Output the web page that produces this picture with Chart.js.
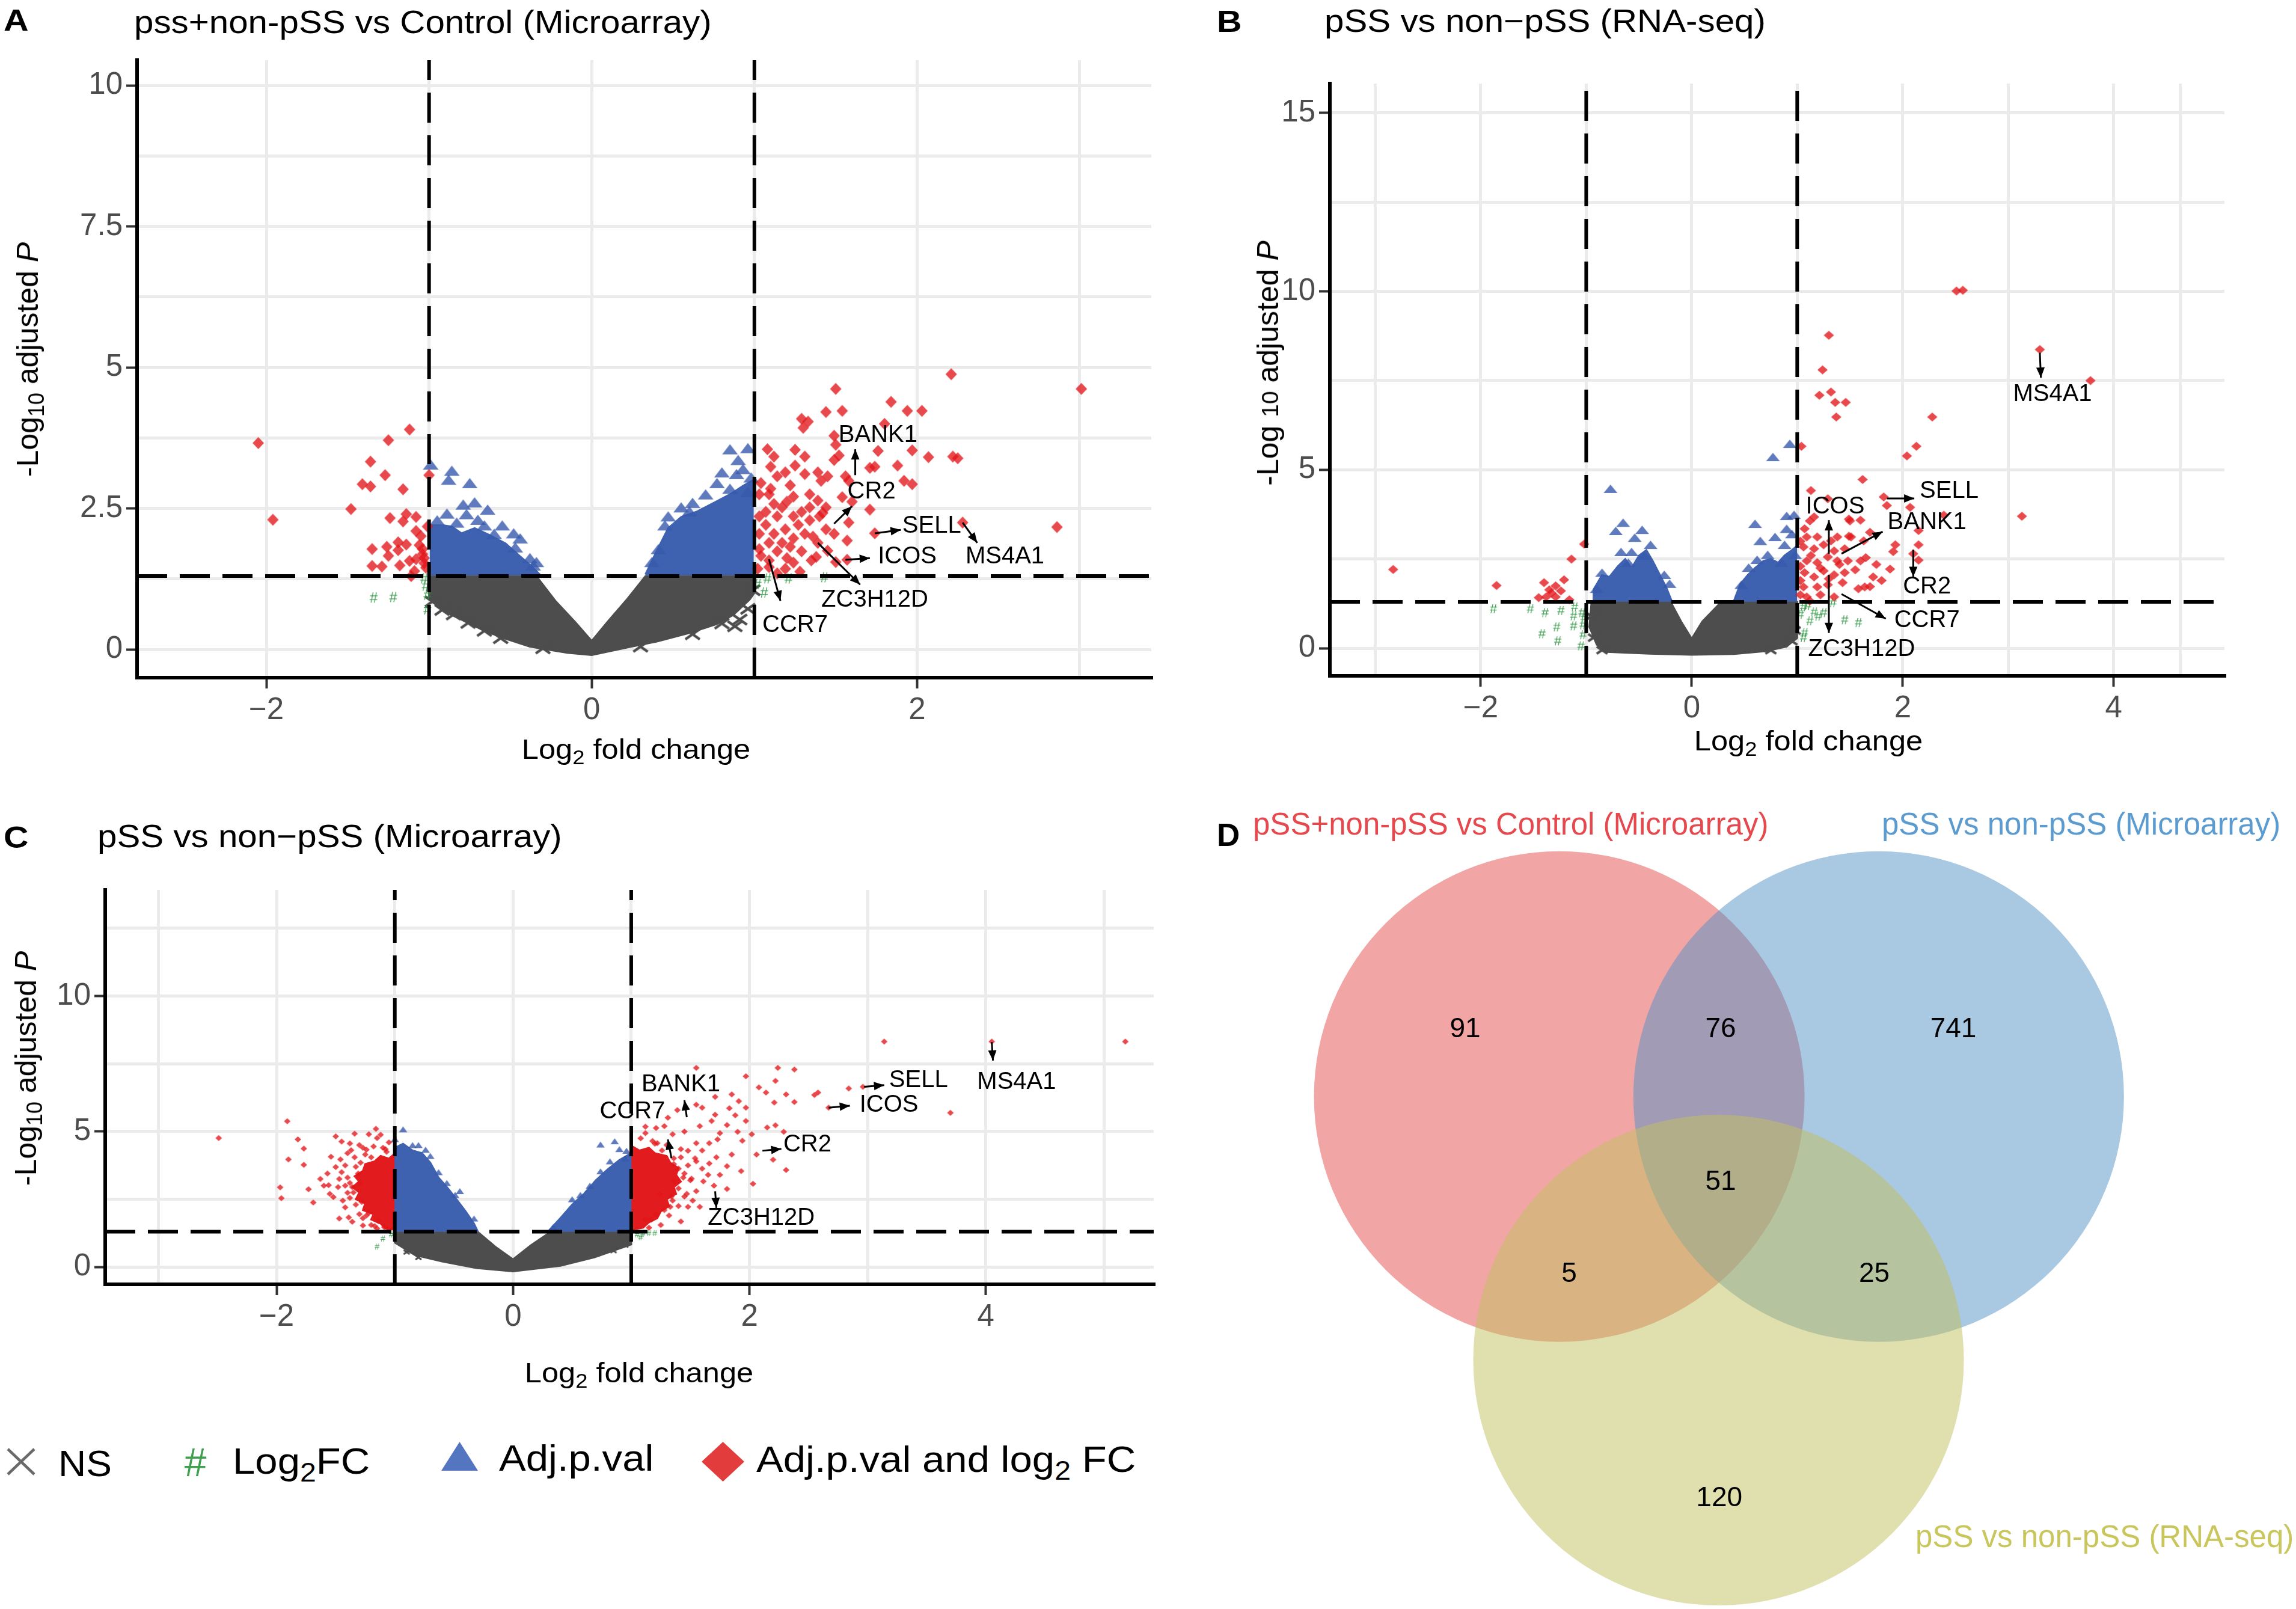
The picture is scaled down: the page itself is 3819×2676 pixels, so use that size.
<!DOCTYPE html>
<html><head><meta charset="utf-8">
<script src="https://cdn.jsdelivr.net/npm/chart.js@4.4.1/dist/chart.umd.min.js"></script>
<style>
html,body{margin:0;padding:0;background:#fff;}
body{width:3819px;height:2676px;position:relative;overflow:hidden;font-family:"Liberation Sans",Arial,sans-serif;}
canvas{position:absolute;}
.t{position:absolute;white-space:nowrap;line-height:1;color:#000;}
sub{font-size:72%;vertical-align:baseline;position:relative;top:0.28em;line-height:0;}
.sm{font-size:78%;}
svg{position:absolute;}
</style></head><body>
<canvas id="cA"></canvas><canvas id="cB"></canvas><canvas id="cC"></canvas><canvas id="cD"></canvas>
<div id="txt"></div>
<script>
// ---------------- DATA ----------------
const FC_CUT = 1, P_CUT = 1.30103;

// Panel A: pss+non-pSS vs Control (Microarray)
const A_nsCloud = [[-1.0,1.30],[-0.34,1.30],[-0.22,0.85],[-0.1,0.48],[0,0.15],[0.1,0.5],[0.22,0.9],[0.33,1.30],[1.0,1.30],[1.0,1.0],[0.97,0.88],[0.87,0.61],[0.77,0.45],[0.6,0.29],[0.4,0.14],[0.23,0.04],[0,-0.10],[-0.15,-0.06],[-0.38,0.05],[-0.53,0.19],[-0.66,0.33],[-0.81,0.54],[-0.89,0.65],[-1.0,0.89]];
const A_ns = [[0.88,0.41],[0.91,0.53],[-0.85,0.62],[-0.92,0.7],[-0.76,0.47],[0.96,0.72],[0.62,0.27],[-0.56,0.2],[-0.98,0.85],[0.99,1.05],[0.3,0.05],[-0.3,0.02],[0.8,0.46],[-0.66,0.33]];
const A_fc = [[-1.34,0.91],[-1.22,0.92],[-1.03,1.25],[-1.01,0.96],[-1.01,0.70],[-1.02,1.12],[1.08,1.25],[1.21,1.25],[1.43,1.27],[1.06,1.00],[1.02,1.15]];
const A_pCloudL = [[-0.99,1.33],[-0.99,2.2],[-0.91,2.2],[-0.86,2.18],[-0.8,2.06],[-0.72,2.15],[-0.63,2.03],[-0.53,1.88],[-0.46,1.70],[-0.38,1.50],[-0.32,1.33]];
const A_pCloudR = [[0.33,1.33],[0.40,1.75],[0.47,2.15],[0.55,2.35],[0.65,2.45],[0.75,2.6],[0.85,2.75],[0.93,2.9],[0.99,3.0],[0.99,1.33]];
const A_p = [[-0.99,3.28],[-0.86,3.17],[-0.88,3.01],[-0.75,2.95],[-0.79,2.57],[-0.72,2.61],[-0.64,2.48],[-0.89,2.41],[-0.77,2.40],[-0.95,2.29],[-0.55,2.20],[-0.66,2.20],[-0.48,2.06],[-0.44,1.97],[-0.47,1.81],[-0.38,1.62],[-0.34,1.55],[-0.36,1.49],[-0.6,2.05],[-0.83,2.25],[-0.7,2.3],
 [0.85,3.55],[0.96,3.57],[0.90,3.36],[0.80,3.14],[0.89,3.11],[0.77,2.95],[0.96,2.79],[0.70,2.75],[0.55,2.52],[0.47,2.36],[0.41,1.78],[0.62,2.6],[0.45,2.2],[0.37,1.55],[0.93,3.2],[0.98,3.05],[0.85,2.85],[0.6,2.45]];
const A_both = [[-2.05,3.66],[-1.96,2.30],[-1.12,3.90],[-1.25,3.71],[-1.36,3.33],[-1.27,3.09],[-1.41,2.93],[-1.36,2.89],[-1.16,2.84],[-1.48,2.49],[-1.24,2.33],[-1.14,2.40],[-1.08,2.35],[-1.16,2.27],[-1.00,3.09],[-1.01,2.18],[-1.08,2.10],[-1.05,2.01],[-1.35,1.78],[-1.26,1.82],[-1.19,1.90],[-1.14,1.86],[-1.19,1.76],[-1.25,1.66],[-1.35,1.48],[-1.29,1.47],[-1.18,1.49],[-1.12,1.57],[-1.08,1.60],[-1.04,1.69],[-1.03,1.53],[-1.09,1.39],[-1.11,1.30],[-1.04,1.78],[-1.02,1.45],[-1.06,1.85],[-1.03,1.62],
 [2.21,4.88],[3.01,4.62],[1.50,4.62],[1.84,4.39],[1.44,4.21],[1.54,4.23],[1.94,4.23],[2.03,4.23],[1.29,4.09],[1.33,4.04],[1.30,3.93],[1.80,4.00],[1.49,3.79],[1.50,3.63],[1.08,3.55],[1.25,3.54],[1.12,3.42],[1.31,3.42],[1.76,3.52],[1.97,3.53],[2.07,3.41],[2.22,3.42],[2.25,3.39],[1.49,3.36],[1.52,3.44],[1.10,3.24],[1.19,3.14],[1.25,3.26],[1.14,3.07],[1.31,3.11],[1.39,3.14],[1.45,3.07],[1.41,2.99],[1.71,3.22],[1.74,3.24],[1.88,3.26],[1.56,3.07],[1.58,2.99],[1.92,2.99],[1.97,2.93],[1.22,2.91],[1.04,2.95],[1.03,2.75],[1.09,2.75],[1.24,2.71],[1.34,2.75],[1.39,2.64],[1.54,2.70],[1.17,2.52],[1.07,2.44],[1.71,2.48],[1.58,2.25],[1.57,1.93],[1.74,2.06],[2.28,2.25],[2.86,2.17],[1.57,1.59],[1.38,1.64],[1.39,1.89],[1.35,1.58],[1.19,1.43],[1.14,1.35],[1.09,1.58],[1.04,1.66],
 [1.03,2.36],[1.07,2.21],[1.12,2.05],[1.19,2.13],[1.27,2.21],[1.34,2.29],[1.40,2.36],[1.24,2.36],[1.14,2.36],[1.09,1.89],[1.17,1.89],[1.24,1.97],[1.31,2.05],[1.44,2.13],[1.49,2.05],[1.03,1.78],[1.14,1.74],[1.22,1.82],[1.29,1.74],[1.09,1.46],[1.24,1.54],[1.02,1.43],[1.03,2.05],[1.34,2.52],[1.44,2.52],[1.12,2.58],[1.29,2.44],[1.2,1.62],[1.28,1.38],[1.45,1.75],[1.5,1.55],[1.1,2.85],[1.2,2.62],[1.36,2.0],[1.42,2.42],[1.6,2.62]];
const A_xTicks = [-2,0,2], A_xGrid = [-2,-1,0,1,2,3];
const A_yTicks = [0,2.5,5,7.5,10], A_yGrid = [0,1.25,2.5,3.75,5,6.25,7.5,8.75,10];
const A_genes = ['BANK1','CR2','SELL','ICOS','MS4A1','ZC3H12D','CCR7'];
const A_genePts = [[1.62,3.09],[1.49,2.23],[1.74,2.06],[1.56,1.59],[2.28,2.25],[1.39,1.89],[1.09,1.60]];

// Panel B: pSS vs non-pSS (RNA-seq)
const B_nsCloud = [[-0.95,1.3],[-0.2,1.3],[-0.1,0.75],[0,0.27],[0.1,0.75],[0.28,1.3],[1.0,1.3],[1.0,0.3],[0.9,0.05],[0.7,-0.08],[0.4,-0.16],[0,-0.18],[-0.4,-0.15],[-0.8,-0.1],[-0.9,0.1],[-0.97,0.6]];
const B_ns = [[-0.95,0.9],[-0.93,0.3],[0.98,0.5],[0.95,0.2],[-0.9,1.1],[0.75,-0.05],[-0.85,-0.05]];
const B_fc = [[-1.88,1.11],[-1.53,1.11],[-1.39,1.00],[-1.24,1.06],[-1.11,1.16],[-1.12,0.91],[-1.04,1.00],[-1.28,0.60],[-1.42,0.41],[-1.12,0.63],[-1.27,0.21],[-1.03,0.38],[-1.05,0.07],[-1.03,0.66],[-1.02,0.85],[1.06,1.16],[1.16,1.02],[1.25,1.00],[1.12,0.77],[1.45,0.80],[1.58,0.72],[1.07,0.44],[1.06,0.30],[1.34,1.28],[1.03,0.95],[1.1,1.2],[1.2,0.9]];
const B_pCloudL = [[-0.93,1.33],[-0.93,1.65],[-0.85,2.05],[-0.78,2.0],[-0.7,2.3],[-0.63,2.5],[-0.57,2.25],[-0.5,2.6],[-0.43,2.75],[-0.37,2.45],[-0.3,2.05],[-0.24,1.7],[-0.19,1.33]];
const B_pCloudR = [[0.4,1.33],[0.46,1.8],[0.53,2.05],[0.6,2.25],[0.68,2.45],[0.75,2.5],[0.82,2.4],[0.88,2.6],[0.95,2.75],[0.99,2.85],[0.99,1.33]];
const B_p = [[-0.77,4.47],[0.77,5.36],[0.93,5.73],[-0.65,3.52],[-0.72,3.29],[-0.47,3.32],[-0.54,3.10],[-0.39,2.90],[-0.67,2.70],[-0.57,2.70],[0.60,3.49],[0.90,3.71],[0.97,3.74],[0.65,3.01],[0.79,3.12],[0.88,2.90],[0.90,3.35],[0.98,2.62],[0.62,2.48],[0.72,2.62],[-0.85,2.12],[-0.26,2.06],[-0.90,1.67],[-0.21,1.81],[0.54,2.26],[0.47,1.78],[-0.6,2.4],[-0.45,2.6],[0.85,2.4],[0.95,3.2]];
const B_both = [[-2.83,2.21],[-1.85,1.76],[-1.02,2.92],[-1.14,2.50],[-1.21,1.92],[-1.40,1.84],[-1.29,1.75],[-1.35,1.64],[-1.24,1.61],[-1.45,1.42],[-1.38,1.44],[-1.29,1.44],[-1.16,1.36],[-1.33,1.55],
 [2.51,10.01],[2.57,10.03],[1.30,8.77],[1.24,7.80],[1.21,7.09],[1.32,7.18],[1.36,6.89],[1.46,6.89],[1.37,6.48],[3.30,8.37],[3.78,7.50],[2.28,6.48],[1.04,5.66],[2.13,5.66],[2.04,5.39],[1.62,4.73],[3.13,3.70],[1.13,4.42],[1.82,4.24],[1.85,4.00],[2.07,3.95],[2.39,3.73],[1.49,3.62],[1.60,3.59],[1.12,3.57],[1.07,3.35],[1.69,3.25],[2.15,3.30],[2.15,2.90],[1.93,2.90],[1.91,2.71],[1.49,3.14],[1.65,2.54],[1.88,2.22],[1.72,2.00],[1.69,1.73],[2.10,2.65],[2.15,2.47],[1.16,3.68],[1.29,4.19],[1.50,3.57],[1.09,3.12],[1.19,3.12],[1.32,3.01],[1.38,3.12],[1.51,3.12],[1.06,2.84],[1.16,2.79],[1.25,2.90],[1.35,2.73],[1.45,2.79],[1.63,3.01],[1.09,2.45],[1.19,2.40],[1.29,2.56],[1.38,2.45],[1.48,2.45],[1.60,2.45],[1.07,2.12],[1.16,2.00],[1.25,2.17],[1.35,2.06],[1.45,2.12],[1.06,1.72],[1.19,1.72],[1.29,1.78],[1.43,1.84],[1.58,1.67],[1.09,1.44],[1.22,1.50],[1.35,1.44],[1.12,1.33],[1.64,1.72],[1.03,2.3],[1.03,1.9],[1.03,1.5],[1.13,2.6],[1.22,2.25],[1.3,1.95],[1.4,2.35],[1.55,2.2],[1.8,1.9],[1.75,2.35],[1.03,3.0]];
const B_xTicks = [-2,0,2,4], B_xGrid = [-3,-2,-1,0,1,2,3,4,4.63];
const B_yTicks = [0,5,10,15], B_yGrid = [0,2.5,5,7.5,10,12.5,15];
const B_genes = ['MS4A1','SELL','ICOS','BANK1','CR2','CCR7','ZC3H12D'];
const B_genePts = [[3.30,8.28],[1.85,4.20],[1.30,2.65],[1.42,2.65],[2.10,2.76],[1.42,1.52],[1.30,2.06]];

// Panel C: pSS vs non-pSS (Microarray)
const C_nsCloud = [[-1.0,1.3],[-0.3,1.3],[-0.15,0.75],[0,0.28],[0.15,0.8],[0.32,1.3],[1.0,1.3],[1.0,0.83],[0.69,0.36],[0.4,0.04],[0,-0.16],[-0.31,-0.04],[-0.6,0.2],[-0.83,0.44],[-1.0,0.9]];
const C_ns = [[-0.9,0.55],[-0.8,0.35],[0.85,0.6],[0.95,0.8],[-0.97,1.0]];
const C_fc = [[-1.1,1.05],[-1.15,0.75],[-1.03,1.2],[1.05,1.2],[1.1,1.22],[1.15,1.25],[1.2,1.25],[1.08,1.1]];
const C_pCloudL = [[-1.0,1.33],[-1.0,4.4],[-0.93,4.55],[-0.85,4.3],[-0.77,4.2],[-0.7,3.85],[-0.63,3.3],[-0.55,2.9],[-0.47,2.45],[-0.4,2.05],[-0.33,1.6],[-0.3,1.33]];
const C_pCloudR = [[0.3,1.33],[0.4,1.8],[0.5,2.3],[0.6,2.7],[0.7,3.2],[0.8,3.6],[0.9,3.95],[1.0,4.2],[1.0,1.33]];
const C_p = [[-0.93,5.08],[-1.0,4.72],[-0.74,4.33],[-0.8,4.5],[-0.63,3.5],[-0.49,2.66],[-0.33,1.79],[-0.45,2.8],[-0.56,3.1],[0.34,1.47],[0.57,2.66],[0.74,3.53],[0.86,4.64],[0.74,4.52],[0.96,4.29],[0.9,4.35],[0.65,3.0],[0.5,2.5],[0.82,3.9],[0.95,4.0],[-0.7,4.1],[-0.85,4.5]];
const C_bothCloudL = [[-1.01,1.38],[-1.08,1.42],[-1.12,1.6],[-1.2,1.75],[-1.18,1.95],[-1.27,2.1],[-1.25,2.35],[-1.33,2.5],[-1.3,2.75],[-1.36,2.95],[-1.3,3.15],[-1.34,3.35],[-1.27,3.55],[-1.25,3.8],[-1.17,3.9],[-1.12,4.1],[-1.05,4.0],[-1.01,4.15]];
const C_bothCloudR = [[1.01,1.38],[1.1,1.45],[1.15,1.65],[1.22,1.8],[1.25,2.05],[1.32,2.25],[1.3,2.5],[1.38,2.7],[1.36,2.95],[1.42,3.15],[1.38,3.4],[1.4,3.65],[1.33,3.85],[1.3,4.1],[1.2,4.2],[1.15,4.4],[1.07,4.3],[1.01,4.45]];
const C_both = [[-2.49,4.76],[-1.91,5.38],[-1.82,4.71],[-1.77,4.37],[-1.90,3.97],[-1.77,3.77],[-1.97,2.94],[-1.96,2.54],[-1.73,2.87],[-1.69,2.38],[-1.50,4.82],[-1.45,4.63],[-1.34,4.92],[-1.38,4.56],[-1.22,4.90],[-1.16,5.10],[-1.12,4.88],[-1.15,4.76],[-1.37,4.31],[-1.54,4.07],[-1.46,3.97],[-1.34,4.05],[-1.24,4.33],[-1.07,4.25],[-1.50,3.69],[-1.57,3.45],[-1.63,3.25],[-1.47,3.25],[-1.56,3.02],[-1.52,2.58],[-1.40,2.74],[-1.47,1.79],[-1.39,1.83],[-1.36,1.67],[-1.27,1.53],[-1.17,1.51],[-1.09,1.47],[-1.42,2.2],[-1.45,3.5],[-1.4,4.2],[-1.3,4.5],[-1.05,4.6],[-1.1,4.4],[-1.6,3.0],[-1.55,2.7],[-1.42,3.0],[-1.44,2.45],
 [-1.3,1.95],[-1.33,2.3],[-1.38,2.55],[-1.36,2.95],[-1.4,3.3],[-1.33,3.7],[-1.25,4.15],[-1.18,4.45],[-1.08,4.35],[-1.2,1.55],[-1.15,1.42],[-1.05,1.4],[-1.3,3.1],[-1.27,1.8],
 [-1.22,2.0],[-1.28,2.4],[-1.35,2.75],[-1.38,3.1],[-1.31,3.45],[-1.29,3.85],[-1.2,4.05],[-1.14,1.7],[-1.24,1.9],[-1.42,3.75],[-1.48,2.95],[-1.27,4.4],
 [3.14,8.32],[4.05,8.32],[5.18,8.32],[3.70,5.69],[2.96,6.65],[2.84,6.59],[2.58,6.44],[2.55,6.35],[2.67,5.88],[2.24,7.35],[2.38,7.29],[2.22,6.87],[1.97,7.04],[2.08,6.63],[2.14,6.44],[2.31,6.37],[2.21,6.07],[2.38,6.09],[1.55,7.35],[1.85,6.37],[1.71,6.28],[1.91,6.12],[1.97,5.88],[1.60,5.88],[1.55,5.99],[1.71,5.62],[1.83,5.86],[1.88,5.60],[1.97,5.39],[1.81,5.24],[2.15,5.15],[2.22,5.23],[1.68,5.39],[1.75,4.94],[1.90,4.99],[2.02,4.90],[2.29,4.99],[1.94,4.66],[1.73,4.71],[1.66,4.57],[2.06,4.15],[2.20,3.96],[2.31,3.58],[2.03,3.07],[1.93,3.54],[1.85,4.15],[1.72,4.05],[1.81,3.72],[1.66,3.82],[1.61,3.16],[1.81,2.88],[1.48,2.22],[1.58,2.22],[1.42,1.68],[1.39,5.79],[1.31,5.51],[1.21,5.13],[1.12,5.18],[1.12,4.94],[1.22,4.57],[1.55,4.57],[1.48,4.29],[1.36,4.01],[1.40,3.63],[1.54,4.01],[1.60,3.63],[1.51,3.26],[1.36,3.16],[1.24,2.69],[1.33,2.22],[1.21,1.94],[1.12,1.75],[1.6,4.3],[1.65,3.4],[1.55,2.8],[1.45,2.6],[1.58,5.2],[1.45,5.0],[1.35,4.9],[1.7,3.0],[1.75,3.4],[1.28,5.2],
 [1.25,1.55],[1.32,1.9],[1.4,2.25],[1.47,2.7],[1.5,3.2],[1.48,3.75],[1.42,4.05],[1.3,4.5],[1.18,4.65],[1.08,4.75],[1.15,1.45],[1.35,2.45],[1.45,3.45],
 [1.28,2.1],[1.34,2.6],[1.4,2.9],[1.44,3.3],[1.36,3.8],[1.26,4.3],[1.17,1.75],[1.52,2.45],[1.55,3.9],[1.2,4.55],[1.42,4.35]];
const C_xTicks = [-2,0,2,4], C_xGrid = [-3,-2,-1,0,1,2,3,4,5];
const C_yTicks = [0,5,10], C_yGrid = [0,2.5,5,7.5,10,12.5];
const C_genes = ['SELL','MS4A1','ICOS','BANK1','CCR7','CR2','ZC3H12D'];
const C_genePts = [[2.97,6.65],[4.05,8.30],[2.67,5.88],[1.47,5.53],[1.34,4.02],[2.11,4.29],[1.71,2.79]];

// Panel D: Venn
const vennSets = ['pSS+non-pSS vs Control (Microarray)','pSS vs non-pSS (Microarray)','pSS vs non-pSS (RNA-seq)'];
const vennRegions = ['A','AB','B','ABC','AC','BC','C'];
const vennCounts = [91,76,741,51,5,25,120];

// ---------------- LAYOUT / STYLE ----------------
const FONTF = '"Liberation Sans", Arial, sans-serif';
const GRAY='#4d4d4d', RED_PT='rgba(226,22,26,0.78)', RED_FILL='rgb(226,28,30)', BLUE_PT='rgba(55,90,172,0.8)', BLUE_FILL='rgb(62,98,176)', GREEN_PT='rgba(40,145,60,0.9)';
const LAYOUT = {
  A:{px:{left:228,right:1915,top:100,bottom:1127}, xr:[-2.795,3.44], yr:[-0.50,10.45],
     sym:{dia:[19,20],tri:[26,17],cross:[24,17,4.5],hash:24},
     tips:[[1.62,3.55],[1.60,2.54],[1.90,2.12],[1.71,1.62],[2.37,1.89],[1.65,1.15],[1.16,0.86]],
     at:[[1.76,3.80],[1.72,2.79],[2.09,2.19],[1.94,1.64],[2.54,1.64],[1.74,0.88],[1.25,0.43]]},
  B:{px:{left:2212,right:3700,top:139,bottom:1124}, xr:[-3.43,5.05], yr:[-0.77,15.82],
     sym:{dia:[17,15],tri:[23,14],cross:[18,12,4],hash:22},
     tips:[[3.31,7.58],[2.11,4.20],[1.30,3.59],[1.81,3.27],[2.10,2.00],[1.84,0.83],[1.30,0.43]],
     at:[[3.42,7.12],[2.44,4.40],[1.36,3.97],[2.23,3.52],[2.23,1.73],[2.23,0.78],[1.61,-0.02]]},
  C:{px:{left:175,right:1919,top:1480,bottom:2136}, xr:[-3.45,5.42], yr:[-0.64,13.92],
     sym:{dia:[11,10],tri:[14,10],cross:[10,7,3],hash:14},
     tips:[[3.14,6.71],[4.06,7.62],[2.85,5.95],[1.45,6.16],[1.31,4.71],[2.27,4.36],[1.72,2.18]],
     at:[[3.43,6.89],[4.26,6.82],[3.18,5.98],[1.42,6.73],[1.01,5.74],[2.49,4.52],[2.10,1.80]]}
};

function symbol(kind, w, h, color, lw){
  const c=document.createElement('canvas');
  const pad=3; c.width=Math.ceil(w+2*pad); c.height=Math.ceil(h+2*pad);
  const g=c.getContext('2d'); const cx=c.width/2, cy=c.height/2;
  g.fillStyle=color; g.strokeStyle=color;
  if(kind==='dia'){g.beginPath();g.moveTo(cx,cy-h/2);g.lineTo(cx+w/2,cy);g.lineTo(cx,cy+h/2);g.lineTo(cx-w/2,cy);g.closePath();g.fill();}
  else if(kind==='tri'){g.beginPath();g.moveTo(cx,cy-h/2);g.lineTo(cx+w/2,cy+h/2);g.lineTo(cx-w/2,cy+h/2);g.closePath();g.fill();}
  else if(kind==='cross'){g.lineWidth=lw;g.beginPath();g.moveTo(cx-w/2,cy-h/2);g.lineTo(cx+w/2,cy+h/2);g.moveTo(cx+w/2,cy-h/2);g.lineTo(cx-w/2,cy+h/2);g.stroke();}
  return c;
}
function hashSym(fs,color){
  const c=document.createElement('canvas'); c.width=Math.ceil(fs*0.8); c.height=Math.ceil(fs*1.1);
  const g=c.getContext('2d'); g.fillStyle=color; g.font=`${fs}px ${FONTF}`; g.textAlign='center'; g.textBaseline='middle';
  g.fillText('#',c.width/2,c.height/2+1); return c;
}
const fmt = v => v<0 ? '\u2212'+Math.abs(v) : String(v);

function makeAnnot(genes, pts, tips, at, size){
  return {id:'annot', afterDatasetsDraw(chart){
    const ctx=chart.ctx, xs=chart.scales.x, ys=chart.scales.y;
    ctx.save(); ctx.strokeStyle='#000'; ctx.fillStyle='#000'; ctx.lineWidth=3;
    genes.forEach((g,i)=>{
      const X0=xs.getPixelForValue(pts[i][0]), Y0=ys.getPixelForValue(pts[i][1]);
      const X1=xs.getPixelForValue(tips[i][0]), Y1=ys.getPixelForValue(tips[i][1]);
      ctx.beginPath(); ctx.moveTo(X0,Y0); ctx.lineTo(X1,Y1); ctx.stroke();
      const a=Math.atan2(Y1-Y0,X1-X0), L=17, W=7;
      ctx.beginPath(); ctx.moveTo(X1,Y1);
      ctx.lineTo(X1-L*Math.cos(a)+W*Math.sin(a), Y1-L*Math.sin(a)-W*Math.cos(a));
      ctx.lineTo(X1-L*Math.cos(a)-W*Math.sin(a), Y1-L*Math.sin(a)+W*Math.cos(a));
      ctx.closePath(); ctx.fill();
      ctx.font=`${size}px ${FONTF}`; ctx.textAlign='center'; ctx.textBaseline='middle';
      ctx.fillText(g, xs.getPixelForValue(at[i][0]), ys.getPixelForValue(at[i][1]));
    });
    ctx.restore();
  }};
}

function volcano(id, L, D){
  const YW=170, XH=140, PT=50, PR=40;
  const cv=document.getElementById(id);
  const w=L.px.right-L.px.left, h=L.px.bottom-L.px.top;
  cv.width=w+YW+PR; cv.height=h+PT+XH;
  cv.style.left=(L.px.left-YW)+'px'; cv.style.top=(L.px.top-PT)+'px';
  cv.style.width=cv.width+'px'; cv.style.height=cv.height+'px';
  const xy=a=>a.map(([x,y])=>({x,y}));
  const closed=a=>xy(a.concat([a[0]]));
  const poly=(p,col,ord)=>({type:'line',data:closed(p),fill:'shape',backgroundColor:col,borderColor:col,borderWidth:3,pointRadius:0,tension:0,order:ord});
  const ds=[];
  D.nsCloud.forEach(p=>ds.push(poly(p,GRAY,9)));
  ds.push({type:'scatter',data:xy(D.ns),pointStyle:symbol('cross',L.sym.cross[0],L.sym.cross[1],GRAY,L.sym.cross[2]),pointRadius:3,order:8});
  ds.push({type:'scatter',data:xy(D.fc),pointStyle:hashSym(L.sym.hash,GREEN_PT),pointRadius:3,order:7});
  D.pCloud.forEach(p=>ds.push(poly(p,BLUE_FILL,6)));
  ds.push({type:'scatter',data:xy(D.p),pointStyle:symbol('tri',L.sym.tri[0],L.sym.tri[1],BLUE_PT),pointRadius:3,order:5});
  (D.bothCloud||[]).forEach(p=>ds.push(poly(p,RED_FILL,4)));
  ds.push({type:'scatter',data:xy(D.both),pointStyle:symbol('dia',L.sym.dia[0],L.sym.dia[1],RED_PT),pointRadius:3,order:3});
  const [x0,x1]=L.xr,[y0,y1]=L.yr;
  const dash={type:'line',borderColor:'#000',borderWidth:6,borderDash:[50,21],pointRadius:0,fill:false,order:1};
  ds.push({...dash,data:[{x:-FC_CUT,y:y0},{x:-FC_CUT,y:y1}]});
  ds.push({...dash,data:[{x:FC_CUT,y:y0},{x:FC_CUT,y:y1}]});
  ds.push({...dash,data:[{x:x0,y:P_CUT},{x:x1,y:P_CUT}]});
  const tc=maj=>ctx=>(ctx.tick && maj.includes(ctx.tick.value))?'#333333':'rgba(0,0,0,0)';
  const axis=(min,max,grid,labels,fitFn)=>({type:'linear',min,max,
    afterBuildTicks:s=>{s.ticks=grid.map(v=>({value:v}));},
    afterFit:fitFn,
    ticks:{autoSkip:false,maxRotation:0,minRotation:0,padding:6,color:'#4d4d4d',font:{family:FONTF,size:51},
      callback:v=>labels.includes(v)?fmt(v):''},
    grid:{color:'#ebebeb',lineWidth:5,tickLength:18,tickWidth:4,tickColor:tc(labels)},
    border:{display:true,color:'#000',width:6}});
  new Chart(cv,{type:'scatter',data:{datasets:ds},
    options:{responsive:false,animation:false,devicePixelRatio:1,events:[],
      layout:{padding:{left:0,top:PT,right:PR,bottom:0}},
      plugins:{legend:{display:false},tooltip:{enabled:false}},
      scales:{x:{...axis(x0,x1,D.xGrid,D.xTicks,s=>{s.height=XH;}),position:'bottom'},
              y:{...axis(y0,y1,D.yGrid,D.yTicks,s=>{s.width=YW;}),position:'left'}}},
    plugins:[makeAnnot(D.genes,D.genePts,L.tips,L.at,40)]});
}

volcano('cA',LAYOUT.A,{nsCloud:[A_nsCloud],ns:A_ns,fc:A_fc,pCloud:[A_pCloudL,A_pCloudR],p:A_p,both:A_both,
  xTicks:A_xTicks,xGrid:A_xGrid,yTicks:A_yTicks,yGrid:A_yGrid,genes:A_genes,genePts:A_genePts});
volcano('cB',LAYOUT.B,{nsCloud:[B_nsCloud],ns:B_ns,fc:B_fc,pCloud:[B_pCloudL,B_pCloudR],p:B_p,both:B_both,
  xTicks:B_xTicks,xGrid:B_xGrid,yTicks:B_yTicks,yGrid:B_yGrid,genes:B_genes,genePts:B_genePts});
volcano('cC',LAYOUT.C,{nsCloud:[C_nsCloud],ns:C_ns,fc:C_fc,pCloud:[C_pCloudL,C_pCloudR],p:C_p,bothCloud:[C_bothCloudL,C_bothCloudR],both:C_both,
  xTicks:C_xTicks,xGrid:C_xGrid,yTicks:C_yTicks,yGrid:C_yGrid,genes:C_genes,genePts:C_genePts});

// ---------------- VENN ----------------
(function(){
  const cv=document.getElementById('cD');
  const W=1869,H=1376; cv.width=W; cv.height=H;
  cv.style.left='1950px'; cv.style.top='1300px'; cv.style.width=W+'px'; cv.style.height=H+'px';
  const VL={centers:[[643.6,523.7],[1174.8,523.7],[908.5,962]], r:408,
    fills:['rgba(229,75,75,0.5)','rgba(83,145,197,0.5)','rgba(193,193,93,0.5)'],
    at:{A:[487,412],AB:[912,412],B:[1299,412],ABC:[912,666],AC:[660,819],BC:[1167.6,819],C:[909.7,1192]}};
  const rad=ctx=>{const s=ctx.chart.scales.x;return Math.abs(s.getPixelForValue(VL.r)-s.getPixelForValue(0));};
  const ds=VL.centers.map((c,i)=>({data:[{x:c[0],y:c[1]}],pointRadius:rad,backgroundColor:VL.fills[i],borderWidth:0,order:2-i,clip:false}));
  const counts={id:'counts',afterDatasetsDraw(chart){
    const ctx=chart.ctx,xs=chart.scales.x,ys=chart.scales.y;
    ctx.save();ctx.fillStyle='#000';ctx.font=`46px ${FONTF}`;ctx.textAlign='center';ctx.textBaseline='middle';
    vennRegions.forEach((r,i)=>{const p=VL.at[r];ctx.fillText(String(vennCounts[i]),xs.getPixelForValue(p[0]),ys.getPixelForValue(p[1]));});
    ctx.restore();}};
  new Chart(cv,{type:'scatter',data:{datasets:ds},
    options:{responsive:false,animation:false,devicePixelRatio:1,events:[],layout:{padding:0},
      plugins:{legend:{display:false},tooltip:{enabled:false}},
      scales:{x:{type:'linear',min:0,max:W,display:false},y:{type:'linear',min:0,max:H,reverse:true,display:false}}},
    plugins:[counts]});
})();

// ---------------- TEXT ----------------
const box=document.getElementById('txt');
function T(html,x,base,size,o={}){
  const d=document.createElement('div'); d.className='t'; d.innerHTML=html;
  d.style.fontSize=size+'px'; d.style.left=x+'px'; d.style.top=(base-0.8465*size)+'px';
  if(o.color) d.style.color=o.color;
  if(o.bold) d.style.fontWeight='bold';
  let tf='';
  if(o.center){tf+='translateX(-50%) ';d.style.transformOrigin='center';} else d.style.transformOrigin='left center';
  if(o.sx) tf+=`scaleX(${o.sx})`;
  d.style.transform=tf; box.appendChild(d); return d;
}
function TY(html,cx,cy,size){
  const d=document.createElement('div'); d.className='t'; d.innerHTML=html;
  d.style.fontSize=size+'px'; d.style.left=cx+'px'; d.style.top=cy+'px';
  d.style.transformOrigin='center'; d.style.transform='translate(-50%,-50%) rotate(-90deg)';
  box.appendChild(d);
}
// titles
T('A',6,51,50,{bold:true,sx:1.15});
T('pss+non-pSS vs Control (Microarray)',223,55,53,{sx:1.1});
T('B',2024,53,50,{bold:true,sx:1.15});
T('pSS vs non\u2212pSS (RNA-seq)',2203,53,53,{sx:1.1});
T('C',6,1410,50,{bold:true,sx:1.15});
T('pSS vs non\u2212pSS (Microarray)',162,1409,53,{sx:1.1});
T('D',2024,1407,53,{bold:true});
// axis titles
T('Log<sub>2</sub> fold change',1058,1262,46,{center:true,sx:1.1});
T('Log<sub>2</sub> fold change',3008,1248,46,{center:true,sx:1.1});
T('Log<sub>2</sub> fold change',1063,2299,46,{center:true,sx:1.1});
TY('-Log<sub>10</sub> adjusted <i>P</i>',46,598,50);
TY('-Log <span class="sm">10</span> adjusted <i>P</i>',2109,604,50);
TY('-Log<sub>10</sub> adjusted <i>P</i>',43,1777,50);
// venn labels
T(vennSets[0],2084,1388,51,{color:'#e5484d'});
T(vennSets[1],3130,1388,51,{color:'#5b9bd0'});
T(vennSets[2],3186,2573,51,{color:'#c9c65c'});
// legend
box.insertAdjacentHTML('beforeend',
 '<svg style="left:9px;top:2406px" width="52" height="50"><path d="M4 4 L48 46 M48 4 L4 46" stroke="#6a6a6a" stroke-width="4.5" fill="none"/></svg>'+
 '<svg style="left:734px;top:2398px" width="61" height="48"><polygon points="30.5,0 61,48 0,48" fill="#5475bf"/></svg>'+
 '<svg style="left:1167px;top:2398px" width="71" height="66"><polygon points="35.5,0 71,33 35.5,66 0,33" fill="#e23c3c"/></svg>');
T('#',325,2455,66,{center:true,color:'#3f9f4f'});
T('NS',97,2456,61,{sx:1.05});
T('Log<sub>2</sub>FC',387,2452,61,{sx:1.1});
T('Adj.p.val',830,2447,61,{sx:1.1});
T('Adj.p.val and log<sub>2</sub> FC',1258,2449,61,{sx:1.1});
</script>
</body></html>
